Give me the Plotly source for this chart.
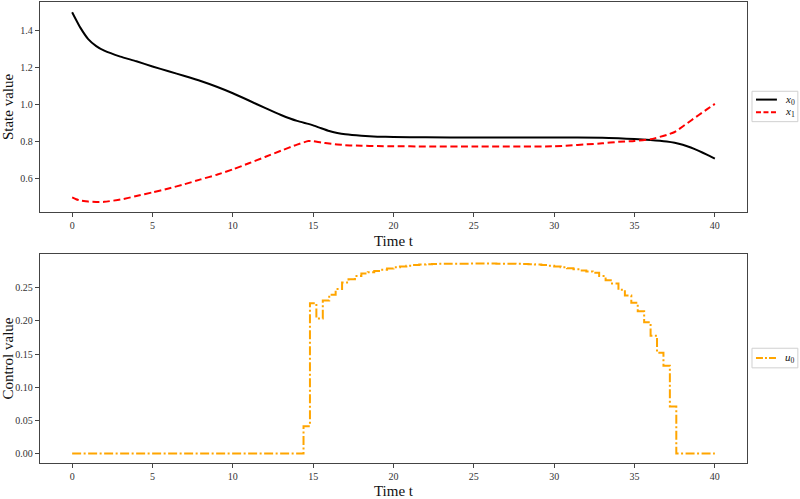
import plotly.graph_objects as go

# ---------------- data ----------------
t_state = [0, 0.25, 0.5, 1, 1.5, 2, 3, 4, 5, 6, 7, 8, 9, 10, 11, 12, 13, 14, 14.7, 15,
           15.5, 16, 16.5, 17, 18, 19, 20, 22, 25, 30, 33, 34, 35, 36, 37, 37.5, 38,
           38.5, 39, 39.5, 40]
x0 = [1.5, 1.458, 1.418, 1.355, 1.317, 1.292, 1.26, 1.235, 1.207, 1.181, 1.155, 1.128, 1.097,
      1.062, 1.023, 0.983, 0.945, 0.913, 0.897, 0.889, 0.873, 0.858, 0.848, 0.841, 0.833,
      0.828, 0.826, 0.824, 0.823, 0.823, 0.822, 0.819, 0.815, 0.81, 0.802, 0.795, 0.784,
      0.769, 0.751, 0.731, 0.709]
x1 = [0.5, 0.49, 0.483, 0.477, 0.475, 0.476, 0.488, 0.507, 0.527, 0.548, 0.571, 0.597,
      0.622, 0.651, 0.684, 0.718, 0.752, 0.785, 0.804, 0.803, 0.796, 0.791, 0.786, 0.782,
      0.779, 0.777, 0.776, 0.775, 0.775, 0.776, 0.792, 0.8, 0.805, 0.814, 0.837, 0.853,
      0.883, 0.914, 0.945, 0.975, 1.005]

t_ctrl = [round(0.4 * k, 1) for k in range(101)]
u0 = [0.0, 0.0, 0.0, 0.0, 0.0, 0.0, 0.0, 0.0, 0.0, 0.0,
      0.0, 0.0, 0.0, 0.0, 0.0, 0.0, 0.0, 0.0, 0.0, 0.0,
      0.0, 0.0, 0.0, 0.0, 0.0, 0.0, 0.0, 0.0, 0.0, 0.0,
      0.0, 0.0, 0.0, 0.0, 0.0, 0.0, 0.0413, 0.2268, 0.2037, 0.2308,
      0.2396, 0.248, 0.2578, 0.2627, 0.2677, 0.2715, 0.2735, 0.2752, 0.2772, 0.279,
      0.2808, 0.282, 0.2833, 0.2842, 0.2849, 0.2854, 0.2858, 0.2861, 0.2862, 0.2863,
      0.2864, 0.2864, 0.2865, 0.2865, 0.2865, 0.2865, 0.2864, 0.2864, 0.2863, 0.2862,
      0.2859, 0.2855, 0.2849, 0.2842, 0.2833, 0.2822, 0.281, 0.2796, 0.278, 0.2762,
      0.2745, 0.2726, 0.2677, 0.2612, 0.2563, 0.247, 0.2382, 0.2273, 0.2146, 0.1978,
      0.1777, 0.152, 0.1324, 0.0708, 0.0, 0.0, 0.0, 0.0, 0.0, 0.0,
      0.0]

x_ticks = [0, 5, 10, 15, 20, 25, 30, 35, 40]
y1_ticks = [0.6, 0.8, 1.0, 1.2, 1.4]
y2_ticks = [0.0, 0.05, 0.10, 0.15, 0.20, 0.25]

# ---------------- figure ----------------
FONT = "Liberation Serif"
W, H = 800, 499
ML, MR, MT, MB = 38, 53, 1, 28
PW, PH = W - ML - MR, H - MT - MB


def px(x):
    return (x - ML) / PW


def py(y):
    return (H - MB - y) / PH


fig = go.Figure()
fig.add_trace(go.Scatter(x=t_state, y=x0, mode="lines", name="x0", showlegend=False,
                         line=dict(color="black", width=2, shape="spline", smoothing=0.5),
                         xaxis="x", yaxis="y"))
fig.add_trace(go.Scatter(x=t_state, y=x1, mode="lines", name="x1", showlegend=False,
                         line=dict(color="red", width=2, dash="7px,3.5px", shape="spline", smoothing=0.5),
                         xaxis="x", yaxis="y"))
fig.add_trace(go.Scatter(x=t_ctrl, y=u0, mode="lines", name="u0", showlegend=False,
                         line=dict(color="#FFA500", width=2, shape="hv", dash="9px,2.5px,2px,2.5px"),
                         xaxis="x2", yaxis="y2"))

axcommon = dict(showline=True, mirror=True, linecolor="#444", linewidth=1.3,
                ticks="outside", ticklen=4, tickwidth=1, tickcolor="#444",
                showgrid=False, zeroline=False,
                tickfont=dict(family=FONT, size=10, color="#333"))

xcommon = dict(axcommon, range=[-2, 42], tickvals=x_ticks,
               title=dict(text="Time t", font=dict(family=FONT, size=15, color="#111"), standoff=5))

fig.update_layout(
    width=W, height=H, margin=dict(l=ML, r=MR, t=MT, b=MB),
    paper_bgcolor="white", plot_bgcolor="white", showlegend=False,
    xaxis=dict(xcommon, domain=[0, 1], anchor="y"),
    yaxis=dict(axcommon, domain=[py(215), 1], anchor="x", range=[0.4215, 1.555],
               tickvals=y1_ticks, tickformat=".1f",
               title=dict(text="State value", font=dict(family=FONT, size=15, color="#111"), standoff=4)),
    xaxis2=dict(xcommon, domain=[0, 1], anchor="y2"),
    yaxis2=dict(axcommon, domain=[0, py(258)], anchor="x2", range=[-0.0143, 0.3008],
                tickvals=y2_ticks, tickformat=".2f",
                title=dict(text="Control value", font=dict(family=FONT, size=15, color="#111"), standoff=4)),
)

# ---------------- legends (drawn like matplotlib's boxes) ----------------
shapes = []
annos = []


def legend_box(y0, y1):
    shapes.append(dict(type="rect", xref="paper", yref="paper",
                       x0=px(752), x1=px(798), y0=py(y1), y1=py(y0),
                       line=dict(color="#d0d0d0", width=1), fillcolor="rgba(255,255,255,0.8)"))


def legend_item(yc, color, dash, label):
    shapes.append(dict(type="line", xref="paper", yref="paper",
                       x0=px(756), x1=px(777), y0=py(yc), y1=py(yc),
                       line=dict(color=color, width=2, dash=dash)))
    annos.append(dict(xref="paper", yref="paper", x=px(783), y=py(yc), xanchor="left",
                      yanchor="middle", showarrow=False, text=label,
                      font=dict(family=FONT, size=11, color="#111")))


legend_box(92, 123)
legend_item(100.5, "black", "solid", "<i>x</i><sub>0</sub>")
legend_item(113.5, "red", "5px,2.5px", "<i>x</i><sub>1</sub>")
legend_box(354, 374)
legend_item(364, "#FFA500", "7px,2px,2px,2px", "<i>u</i><sub>0</sub>")

fig.update_layout(shapes=shapes, annotations=annos)
fig.write_html("out.html")
